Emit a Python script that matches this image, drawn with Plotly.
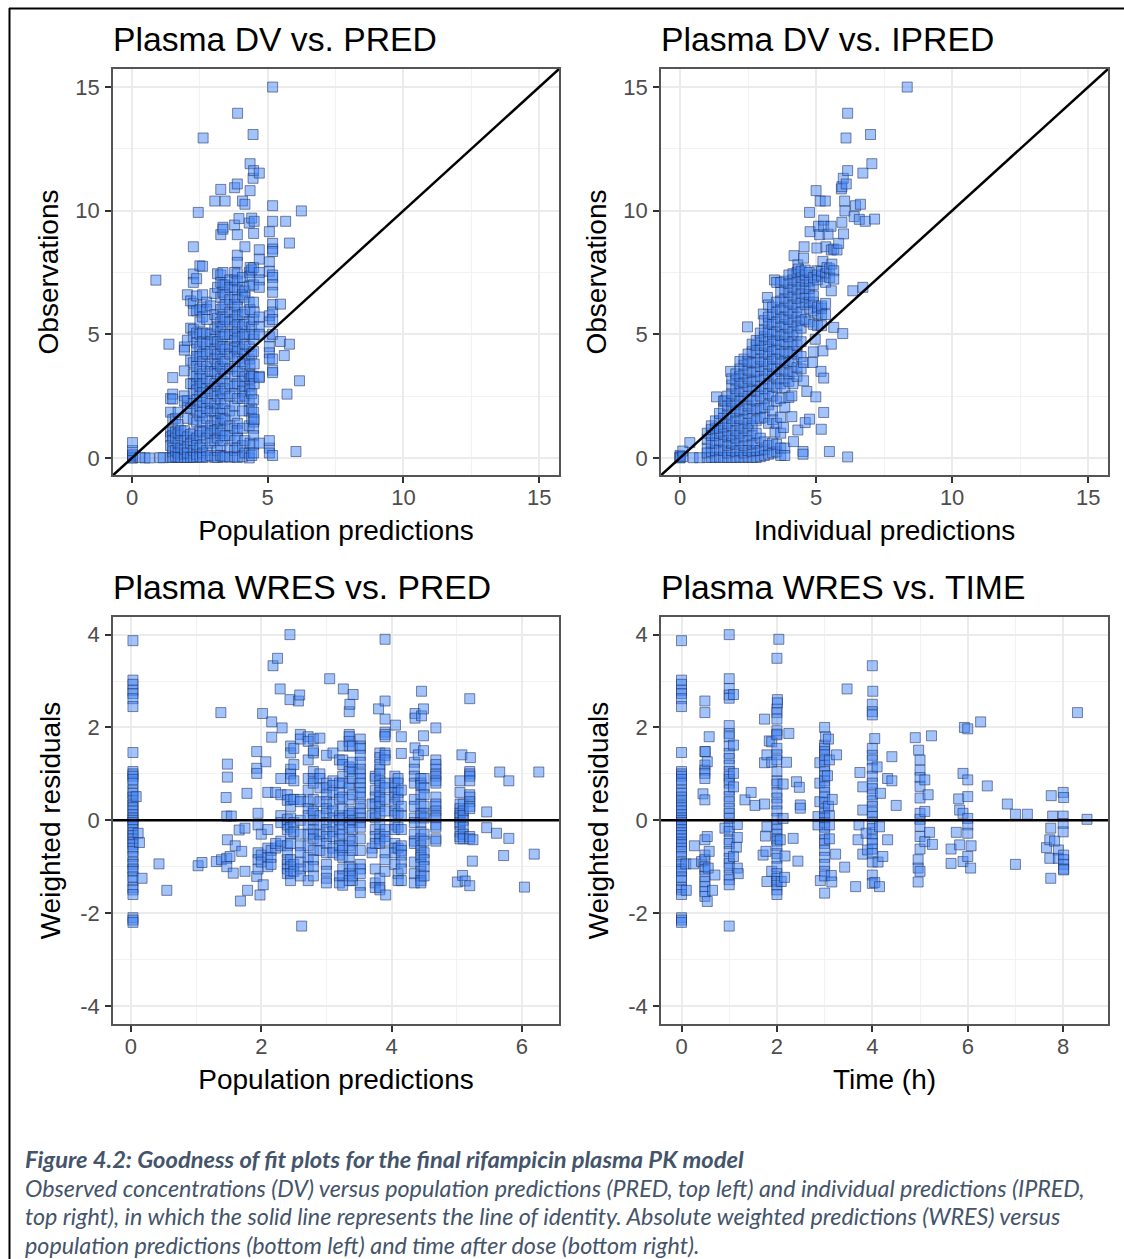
import plotly.graph_objects as go

W, H = 1124, 1259

# Each dict: x value -> observed y values at that x
dv_vs_pred = {
0.02:[0,.05,.1,.15,0,.3,.62],0.3:[.02],0.48:[0],0.64:[0],0.88:[7.19],1.03:[.01],1.15:[.01],1.36:[4.6],
1.42:[2.4,1.85,1.05,.85,.5,.02],1.5:[3.25,2.58,2.38,1.55,1.1,.9,.7,.25,.02,.4],1.6:[1.6,1.05,.8,.3,.05],
1.7:[1.85,1.35,1,.6,.2,.02],1.8:[.9,.4,.02,1.1],1.93:[4.49,4.36,3.52,2.51,2.3,1.1,.7,.15,.02,.35],
2.04:[6.6,4.76,2.31,2.05,1.6,.85,.45,.02,.2],2.16:[6.35,5.25,3.95,3,2,.95,.6,.02],
2.26:[8.54,7.44,7.1,6.25,5.95,5.2,4.9,3.85,3.4,3,2.6,2.2,1.55,1,.7,.3,.03],
2.38:[7.25,6.55,5.95,5.05,4.65,4.4,4.1,3.7,3.3,3,2.75,2.35,1.9,1.45,.8,.5,.15,.03],
2.44:[9.93],2.5:[7.77,6,5.5,5,4.5,4.1,3.6,3.2,2.9,2.5,2.1,1.7,1.1,.9,.4,.05],
2.6:[7.75,6.6,6.1,5.7,5.05,4.7,4.2,3.9,3.4,3,2.65,2.25,1.85,1.45,1.05,.55,.2,.02],2.62:[12.94],
2.75:[6.3,6,5.6,5.05,4.6,4.2,3.7,3.2,2.8,2.4,2,1.6,1.1,.8,.3,.04],
2.9:[6.15,5,4.7,4.3,3.8,3.5,3.1,2.7,2.2,1.9,1.3,1,.6,.1],
3.05:[10.39,6.65,5.8,5.2,4.8,4.4,4,3.5,3,2.6,2.2,1.85,1.5,1.1,.7,.03],
3.15:[7.45,6.9,5.65,5.3,4.7,4.2,3.8,3.4,2.9,2.5,2,1.5,1.15,.8,.3,.02],
3.27:[10.86,9.03,7.4,7.1,6.5,6,5.5,5.1,4.6,4.2,3.7,3.2,2.7,2.35,1.8,1.4,1,.5,.1],
3.35:[9.33,9.25,7.5,7,6.7,6.1,5.7,5.3,4.9,4.5,4,3.6,3.1,2.6,2,1.6,1.1,.7,.04],
3.43:[10.39,7,6.6,6.2,5.6,5,4.4,3.9,3.4,2.8,2.2,1.55,.9,.05],
3.6:[7.2,6.9,6.4,5.9,5.5,5,4.5,4.2,3.6,3,2.5,1.9,1.3,.9,.4,.03],
3.78:[10.93,9.42,7.5,7.2,6.9,6.5,6.2,5.9,5.6,5.3,5,4.75,4.45,4.1,3.7,3.3,2.9,2.6,2.1,1.7,1.2,.7,.3,.05],
3.88:[11.08,9.03,8.2,7.91,7.45,7.15,6.8,6.4,6.1,5.75,5.4,5.1,4.85,4.5,4.3,4,3.5,3,2.4,1.4,1.1,.8,.4,.02],
3.89:[13.94],3.94:[9.68],
4.07:[10.39,7.3,6.9,6.6,5.8,5.3,4.9,4.4,3.9,3.5,3.1,2.7,2.4,1.9,1.2,.5,.05],
4.16:[10.26,8.54,6.75,6.5,5.9,5.4,5,4.6,4.2,3.8,3.3,2.9,2.5,.7,.2],
4.32:[9.5,7.5,6.95,6.3,5.5,5,4.5,4,3.4,2.9,2.3,1.9,1.3,.2,0],
4.35:[11.9,10.81,7.7,7.35,6,3.75,3.2,2.75,.6],4.41:[9.7,7.6,5.3,4.2,3.3,2.6,2,1.6,.1],
4.46:[13.08,11.31],4.48:[11.62,9.08,7.7,7,6.3,5.6,4.8,4.3,3.3,2.35,1.85,1.45,1.2,.9,.55,.2],
4.5:[9.57,5.9,5,3.8,3,1.55],4.69:[11.52,8.42,8.04,7.5,7.2,6.9,5.7,5.3,5,3.3,3.25,.6],
5.06:[9.15,7.93,7.55,5.75,5.5,4.9,4.5,4.25,4,.4,.7,.2],
5.18:[15,10.2,9.57,8.68,8.45,8.35,7.4,7.3,7,6.7,6.2,5.9,5.6,5,4,3.55,3.45,.1],
5.23:[2.15],5.47:[6.22,4.71],5.61:[4.14],5.66:[9.57],5.71:[2.58],5.8:[8.69,4.6],6.04:[.26],6.17:[3.12],6.24:[9.99],
}

dv_vs_ipred = {
0.0:[.05,.02,.1,0],0.1:[.28,.05],0.36:[.62],0.48:[.01],0.72:[.01],
1.0:[.02,.4,.75,1,.2],1.15:[.02,.25,.6,.9,1.15,1.3],1.3:[.02,.3,.6,.9,1.2,1.5],1.34:[2.47],
1.45:[.03,.35,.7,1,1.2,1.5,1.8],1.6:[.02,.3,.65,.95,1.25,1.6,2,2.3],1.65:[2.31],
1.75:[.02,.2,.5,.85,1.1,1.4,1.75,2.1,2.5],1.86:[3.5],
1.9:[.02,.3,.6,.9,1.3,1.6,2,2.3,2.6,2.95,3.2],2.05:[.02,.25,.55,.8,1.1,1.5,1.85,2.15,2.5,2.8,3.15,3.4],
2.2:[.03,.3,.7,1,1.3,1.6,1.9,2.3,2.7,3,3.3,3.6,3.9],2.35:[.02,.2,.5,.85,1.2,1.55,1.95,2.4,2.7,3.05,3.4,3.75,4],
2.48:[5.3],2.5:[.03,.3,.7,1.1,1.4,1.8,2.1,2.5,2.9,3.2,3.55,3.9,4.2],
2.65:[.02,.25,.55,.9,1.3,1.6,2,2.35,2.75,3.1,3.45,3.85,4.3,4.6],
2.8:[.02,.3,.6,1,1.5,1.95,2.3,2.7,3.15,3.5,3.85,4.25,4.55,4.75],
2.95:[.05,.3,.8,1.6,2,2.5,2.9,3.3,3.7,4,4.4,4.75,5.05],
3.06:[5.82],3.1:[.1,.35,.65,1.65,2.05,2.4,2.8,3.2,3.55,3.9,4.25,4.55,4.9,5.2,5.55],
3.21:[6.49],3.25:[.15,.5,1.4,2.15,2.6,3,3.4,3.8,4.2,4.5,4.8,5.1,5.45,5.7,6.19],
3.4:[.2,.6,1.55,1.9,2.5,2.9,3.35,3.7,4,4.3,4.7,5,5.4,5.8,6.1],3.47:[7.2],3.49:[1.05],
3.55:[.25,.55,1.4,2.3,2.85,3.2,3.6,4,4.4,4.75,5.1,5.5,5.9,6.3,7.1],
3.7:[.1,.4,1,1.65,2.4,3,3.5,3.85,4.2,4.6,4.95,5.3,5.65,6,6.35,6.7,7.1],3.8:[1.23],
3.85:[.4,.1,2.05,2.85,3.2,3.55,3.95,4.3,4.7,5,5.4,5.7,6.1,6.45,6.8,7.15],
4.0:[2.45,3.1,3.4,3.85,4.25,4.6,4.9,5.25,5.6,5.95,6.3,6.7,7.05,7.4],4.11:[2.51,1.67],
4.15:[3,3.5,3.9,4.3,4.7,5.1,5.5,5.85,6.2,6.55,6.9,7.2,7.45],4.17:[.66],4.19:[8.18],
4.3:[3.3,3.65,4.2,4.55,5,5.35,5.7,6.1,6.45,6.8,7.15,7.5],4.33:[7.81,1.13],4.35:[7.64],
4.45:[3.6,4.1,4.7,5.25,5.55,5.9,6.3,6.65,7,7.3,7.55],4.52:[.26,.15],4.54:[8.08,3.86,3.12],4.56:[8.54],
4.6:[5.6,6.2,6.5,6.85,7.15,7.4,7.6,1.43],4.66:[2.69],4.75:[5.5,6.05,6.3,6.6,6.85,7.15,7.5],4.76:[9.93,1.57],4.78:[9.15],
4.87:[3.86],4.9:[5.4,5.95,6.3,6.55,7,7.3,4.29],4.97:[4.8],4.99:[2.47],5.0:[10.81],5.03:[8.49,7.57],
5.05:[5.35,5.85,6.1,7.4,7.2],5.09:[9.37],5.13:[9.03],5.15:[10.39],5.18:[3.5],5.19:[1.16],
5.2:[5.35,5.8,6.05,6.15,7.35,7.55],5.25:[7.95,4.33],5.28:[9.62,9.37,3.23,1.84],5.34:[10.39],
5.35:[5.8,6.25,7.45,7.1],5.36:[8.54],5.4:[7.7],5.44:[9.05],5.49:[.26],5.5:[7.3,7.65],5.55:[9.37],5.56:[8.41,6.76,4.6],
5.58:[7.84],5.65:[8.45,7.57,7.23,5.28],5.77:[8.41],5.83:[8.68],5.93:[10.88],5.95:[10.97,9.53],5.98:[5.03],
6.0:[11.31],6.01:[9.06],6.05:[10.39],6.06:[9.99],6.1:[12.94],6.11:[11.08],6.16:[13.94,11.62,.04],6.35:[6.76],
6.4:[9.76],6.45:[10.2],6.59:[9.65],6.63:[10.26],6.72:[11.52,6.9],6.81:[9.57],7.0:[13.08],7.05:[11.9],7.15:[9.66],8.35:[15],
}

wres_zero_group = [3.87,3.02,2.93,2.8,2.73,2.62,2.45,1.46,1.05,1,.95,.88,.8,.65,.58,.5,.42,.33,.27,.2,.12,.05,0,-.05,-.12,-.2,-.27,-.33,-.4,-.47,-.52,-.6,-.67,-.78,-.9,-.95,-1.05,-1.1,-1.22,-1.3,-1.45,-1.5,-1.6,-2.1,-2.15,-2.2]

wres_vs_pred = {
0.03:wres_zero_group,0.08:[.51],0.11:[-.28],0.13:[-.48],0.17:[-1.25],0.43:[-.94],0.55:[-1.51],1.03:[-.98],1.09:[-.91],1.31:[-.89],1.38:[2.32],1.39:[-.85],
1.46:[.49],1.47:[.09,-.82,-1],1.48:[1.21,.93,-.42],1.52:[-.78],1.54:[.09],1.57:[-1.14],1.6:[-.55],1.66:[-.21],1.68:[-1.74],1.7:[-.67],1.75:[-.17,-1.1],1.78:[.58],1.79:[-1.51],
1.93:[1.48,1.12,1.01,-1.21],1.95:[.15,-.1,-.7,-.85,-1.05],1.98:[-1.61],2.0:[-.75,-.9,-.3],2.02:[2.3],2.03:[-1.39],2.07:[1.26],2.1:[-.2,-.8,-1,-.6,.6],
2.15:[-.65,-.8,-.95],2.16:[2.12,1.79],2.18:[3.33],2.22:[-.6,-.5,.6],2.25:[3.49],2.29:[2.83],2.3:[.9,.55,.1,-.05,-.55,-.45],2.32:[1.99],
2.4:[.55,.43,.02,-.1,-.2,-.55,-.7,-.85,-.95,-1.05,-1.15],2.44:[4,2.6],2.45:[1.6,1.45,1.1,1,.9,.45,.3,.05,-.15,-.3,-.5,-.85,-1,-1.15,-1.3],
2.5:[1.55,1.2,.85,.45,-.05,-.25,-.95,-1.1],2.57:[2.57],2.59:[2.7],2.6:[1.85,1.75,.45,.4,0,-.3,-.55,-.7,-.9,-1.05,-1.2],2.62:[-2.28],
2.72:[1.8,1.7,1.3,.9,.65,.4,.25,.1,-.1,-.3,-.55,-.8,-1,-1.3],2.8:[1.75,1.45,1.5,1.05,.9,.8,.45,.2,.15,0,-.2,-.3,-.4,-.65,-.85,-1,-1.2],
2.9:[1.77,1,.9,.7,.4,.1,-.1,-.3,-.45,-.65],3.0:[1.4,.8,.7,.55,.4,.25,.15,-.05,-.2,-.35,-.5,-.7,-.95,-1.1,-1.25,-1.35],3.05:[3.05],
3.1:[1.45,.85,.75,.6,.35,.2,.05,-.1,-.25,-.35,-.6,-.7],3.2:[1.3,.8,.6,.45,.1,0,-.2,-.4,-.55,-.75,-1.2,-1.35],
3.25:[1.6,1.3,1.2,.95,.8,.5,.25,.05,-.1,-.3,-.55,-.65,-.8,-1.05,-1.2,-1.4],3.26:[2.83],
3.35:[2.34,1.85,1.8,1.7,1.6,1.15,1.05,.8,.7,.45,.2,.1,-.05,-.15,-.4,-.55,-.8,-1,-1.15,-1.3],3.36:[2.5],
3.4:[1.6,1.1,1.25,.9,.55,.15,0,-.2,-.45,-.65,-1.05,-1.3,-1.2],3.41:[2.71],
3.52:[1.75,1.6,1.55,1.4,1.25,1.1,1,.9,.8,.7,.6,.5,.35,.25,.15,.05,-.05,-.15,-.4,-.65,-.95,-1.05,-1.15,-1.4,-1.56],
3.7:[.35,.1,-.6,-.7],3.75:[.95,.9,.65,.5,.35,.15,.05,-.2,-.35,-.5,-1.05,-1.35,-1.45],3.8:[2.4],
3.82:[1.45,1.35,1.2,1.1,1,.85,.75,.6,.5,.4,.3,.15,-.1,-.3,-.4,-.5,-1.25,-1.45,-1.5],
3.9:[3.9,2.57,2.18,1.9,1.85,1.8,1.45,1.4,1.3,.8,.7,.45,.2,-.2,-.35,-.45,-.7,-.85,-1.1],3.91:[-1.61],
4.05:[.95,.8,.7,.6,.5,.35,.2,.1,-.1,-.2,-.5,-.6,-.7,-.95],4.06:[2.05],4.1:[.9,.8,.6,.45,.15,-.15,-.6,-1.15,-1.3],
4.15:[1.8,1.44,.65,.3,.1,-.2,-.55,-.65,-.75,-.9,-1.05,-1.3],
4.35:[1.25,1.1,.95,.8,.45,.3,.05,-.05,-.3,-.45,-.5,-.9,-1.15,-1.35],4.36:[2.3,2.2,1.56],4.41:[1.41],
4.45:[.9,.8,.75,.55,.35,.15,.1,-.05,-.25,-.4,-.55,-.65,-.75,-.8,-.95,-1.1,-1.2,-1.3,-1.35],4.46:[2.78,2.25],4.49:[2.4,1.82,1.5],
4.5:[.9,.7,.55,.3,.15,.05,-.3,-.45,-.7,-.85,-1,-1.2],4.68:[1.99,1.3,1.2,1.1,1,.95,.85,.8,.5,.3,.35,.2,.1,.05,-.1,-.15,-.4,-.45],
5.01:[-1.33],5.05:[.85,.6,.35,.25,.15,.1,.05,-.05,-.1,-.25,-.35,-.4],5.08:[1.41],5.09:[-1.19],5.1:[.35,.2,.1,0,-.15,-.3,-.4],5.13:[-1.31],
5.2:[2.62,1.05,1,.95,.85,.55,.5,.4,.3,.25,-.35,-.4,-1.41],5.21:[1.35],5.24:[-.88],5.25:[-.42],5.46:[.18,-.16],5.61:[-.28],5.66:[1.04],5.72:[-.76],5.8:[.85,-.39],6.04:[-1.44],6.19:[-.73],6.26:[1.04],
}

wres_vs_time = {
0.0:wres_zero_group,0.09:[-.94],0.1:[-1.51],0.25:[-.94],0.27:[-.55],0.42:[-.89],0.45:[.57],
0.49:[2.57,2.32,1.48,1.19,1.08,1.01,.9,.44,-.42,-.75,-.85,-1,-1.07,-1.21,-1.32,-1.43,-1.54,-1.64],0.5:[1.48],0.54:[1.26,-.35,-1.75],0.56:[-1.03],0.58:[1.8,-.67],0.65:[-1.51],0.7:[-1.18],0.91:[-.17],
1.0:[4,3.05,2.84,2.7,2.63,2.04,1.87,1.8,1.6,1.44,1.33,1.19,1.05,.95,.88,.8,.65,.51,.4,.26,.15,.04,-.14,-.24,-.42,-.5,-.67,-.82,-.93,-1.03,-1.18,-1.28,-1.39,-2.28],
1.09:[2.71,1.62,1.01,.72,-.78],1.15:[-.58],1.17:[-.09,-.37,-1.03],1.19:[-1.15],1.33:[.44],1.46:[.6],1.54:[.32],1.71:[-.75],1.74:[2.18,1.24,.35],1.76:[-.34],1.77:[-.67],1.79:[1.41,-.14,-1.32],
1.84:[1.71],1.89:[1.69,1.25,-1.1],2.0:[3.49,2.4,2.32,2.18,1.86,1.93,1.84,1.55,1.41,1.3,1.05,.85,.78,.6,.48,.35,.2,.04,-.1,-.2,-.3,-.4,-.45,-.55,-.72,-.82,-1,-1.15,-1.25,-1.32,-1.4,-1.5,-1.6],
2.01:[2.6,2.53],2.04:[3.9],2.07:[-.42],2.09:[-1.32],2.13:[.78,.04],2.16:[-1.23],2.17:[-.77],2.2:[1.25],2.25:[1.87],2.34:[-.39],2.41:[.83],2.44:[-.88],2.47:[.71],2.49:[.33,.26],
2.86:[.08,-.1],2.9:[1.24,.8,.4],2.91:[-1.3],3.0:[2,1.62,1.55,1.48,1.41,1.3,1.18,1.05,.95,.85,.72,.6,.5,.38,.25,.15,.05,-.05,-.15,-.3,-.42,-.5,-.65,-.8,-.95,-1.1,-1.2,-1.57],3.02:[1.8],3.06:[.96],3.08:[1.75,.3],
3.1:[1.3,.1,-.1,-.4],3.14:[-1.19],3.15:[-1.33],3.16:[.45],3.23:[-.73],3.25:[1.41],3.42:[-1.01],3.47:[2.83],3.65:[-1.43],3.7:[-.42],3.72:[-.1],3.74:[1.03],3.8:[.72,.22,-.73],3.87:[-.28],3.9:[-.64],
4.0:[3.33,2.5,2.34,2.27,1.55,1.4,1.3,1.12,.95,.8,.68,.55,.42,.3,.18,.08,-.05,-.18,-.3,-.42,-.5,-.62,-.72,-.9,-1.18,-1.36],4.01:[2.78],4.05:[1.76,-1.34],4.1:[1.15],4.12:[-.9],4.15:[-.14,-1.43],4.17:[.58],4.22:[-.78],4.32:[.9,-.42],4.41:[1.37,.85],4.5:[.32],
4.9:[1.78],4.96:[-.85,-1.03,-1.33],4.97:[1.51],5.0:[1.3,1.08,.92,.73,.48,.15,.02,-.13,-.35,-.62,-1.1],5.1:[.87,.19,-.46],5.17:[.55],5.2:[-.26],5.24:[1.82],5.26:[-.52],
5.65:[-.62,-.93],5.76:[-.26],5.81:[.46],5.83:[.22,-.53],5.9:[1.01,.15,-.89],5.93:[2],6.0:[1.97,.87,.51,.04,-.1,-.28,-.78],6.06:[-1.03],6.07:[-.55],6.27:[2.12],6.41:[.74],6.83:[.35],
7.0:[.13,-.95],7.25:[.13],7.65:[-.59],7.72:[-.42,-.82],7.74:[-.17,-1.25],7.75:[.53],7.78:[.09],7.82:[-.45],7.9:[-.64,-.82],8.0:[.6,.09,-.07,-.25],8.01:[.49,-.75,-.85,-.95,-1.05,-1.07],8.3:[2.32],8.5:[.02],
}

panel_titles = ["Plasma DV vs. PRED","Plasma DV vs. IPRED","Plasma WRES vs. PRED","Plasma WRES vs. TIME"]
x_titles = ["Population predictions","Individual predictions","Population predictions","Time (h)"]
y_titles = ["Observations","Observations","Weighted residuals","Weighted residuals"]
panel_data = [dv_vs_pred,dv_vs_ipred,wres_vs_pred,wres_vs_time]
x_ticks = [[0,5,10,15],[0,5,10,15],[0,2,4,6],[0,2,4,6,8]]
x_minor = [[2.5,7.5,12.5],[2.5,7.5,12.5],[1,3,5],[1,3,5,7]]
y_ticks = [[0,5,10,15],[0,5,10,15],[-4,-2,0,2,4],[-4,-2,0,2,4]]
y_minor = [[2.5,7.5,12.5],[2.5,7.5,12.5],[-3,-1,1,3],[-3,-1,1,3]]
x_ranges = [[-.7,15.73],[-.7,15.73],[-.276,6.57],[-.43,8.94]]
y_ranges = [[-.69,15.73],[-.69,15.73],[-4.39,4.38],[-4.39,4.38]]
# reference lines: identity on top, zero on the bottom
ref_x = [[-1,17],[-1,17],[-1,10],[-1,10]]
ref_y = [[-1,17],[-1,17],[0,0],[0,0]]

caption_head = "Figure 4.2: Goodness of fit plots for the final rifampicin plasma PK model"
caption_lines = ["Observed concentrations (DV) versus population predictions (PRED, top left) and individual predictions (IPRED,",
"top right), in which the solid line represents the line of identity. Absolute weighted predictions (WRES) versus",
"population predictions (bottom left) and time after dose (bottom right)."]

boxes = [(113,559,69,475),(661,1108,69,475),(113,559,617,1024),(661,1108,617,1024)]
FONT = "Liberation Sans"
fig = go.Figure()
layout = dict(width=W,height=H,autosize=False,margin=dict(l=0,r=0,t=0,b=0),paper_bgcolor="white",plot_bgcolor="white",
              showlegend=False,font=dict(family=FONT,color="black"))
annots, shapes = [], []
for i in range(4):
    n = "" if i==0 else str(i+1)
    l,r,t,b = boxes[i]
    xs, ys = [], []
    for k,v in panel_data[i].items():
        xs += [k]*len(v); ys += v
    fig.add_trace(go.Scatter(x=xs,y=ys,xaxis="x"+n,yaxis="y"+n,mode="markers",hoverinfo="skip",
        marker=dict(symbol="square",size=10,color="rgba(70,135,250,0.5)",line=dict(color="rgba(30,45,85,0.55)",width=1))))
    fig.add_trace(go.Scatter(x=ref_x[i],y=ref_y[i],xaxis="x"+n,yaxis="y"+n,mode="lines",hoverinfo="skip",line=dict(color="black",width=2.5)))
    common = dict(showgrid=True,gridcolor="#ebebeb",gridwidth=2,zeroline=False,showline=True,linecolor="#555555",linewidth=1.5,mirror=True,
                  ticks="outside",ticklen=6,tickwidth=1.5,tickcolor="#333333",tickfont=dict(family=FONT,size=22,color="#4d4d4d"))
    layout["xaxis"+n] = dict(common,domain=[l/W,r/W],range=x_ranges[i],anchor="y"+n,tickmode="array",tickvals=x_ticks[i],
        ticktext=[str(v) for v in x_ticks[i]],ticklabelstandoff=-4,
        minor=dict(tickvals=x_minor[i],showgrid=True,gridcolor="#f2f2f2",gridwidth=1,ticks=""),
        title=dict(text=x_titles[i],standoff=11,font=dict(family=FONT,size=28,color="black")))
    layout["yaxis"+n] = dict(common,domain=[1-b/H,1-t/H],range=y_ranges[i],anchor="x"+n,tickmode="array",tickvals=y_ticks[i],
        ticktext=[str(v) for v in y_ticks[i]],ticklabelstandoff=1,
        minor=dict(tickvals=y_minor[i],showgrid=True,gridcolor="#f2f2f2",gridwidth=1,ticks=""),
        title=dict(text=y_titles[i],standoff=9 if i<2 else 11,font=dict(family=FONT,size=28,color="black")))
    annots.append(dict(text=panel_titles[i],xref="paper",yref="paper",x=(l-2)/W,y=1-(t-30)/H,xanchor="left",yanchor="middle",
        showarrow=False,font=dict(family=FONT,size=33.7,color="black")))
cap_y = [1159,1187.5,1216,1244.5]
for j,txt in enumerate([caption_head]+caption_lines):
    s = f"<b><i>{txt}</i></b>" if j==0 else f"<i>{txt}</i>"
    annots.append(dict(text=s,xref="paper",yref="paper",x=23/W,y=1-cap_y[j]/H,xanchor="left",yanchor="middle",showarrow=False,
        font=dict(family="Lato",size=23.7 if j==0 else 23.3,color="#44546a")))
shapes.append(dict(type="line",xref="paper",yref="paper",x0=9.5/W,x1=9.5/W,y0=0,y1=1-8/H,line=dict(color="black",width=2)))
shapes.append(dict(type="line",xref="paper",yref="paper",x0=9/W,x1=1,y0=1-8.5/H,y1=1-8.5/H,line=dict(color="black",width=2)))
layout["annotations"] = annots
layout["shapes"] = shapes
fig.update_layout(**layout)
fig.write_html("out.html",post_script="document.body.style.margin='0';",config={"displayModeBar":False})
